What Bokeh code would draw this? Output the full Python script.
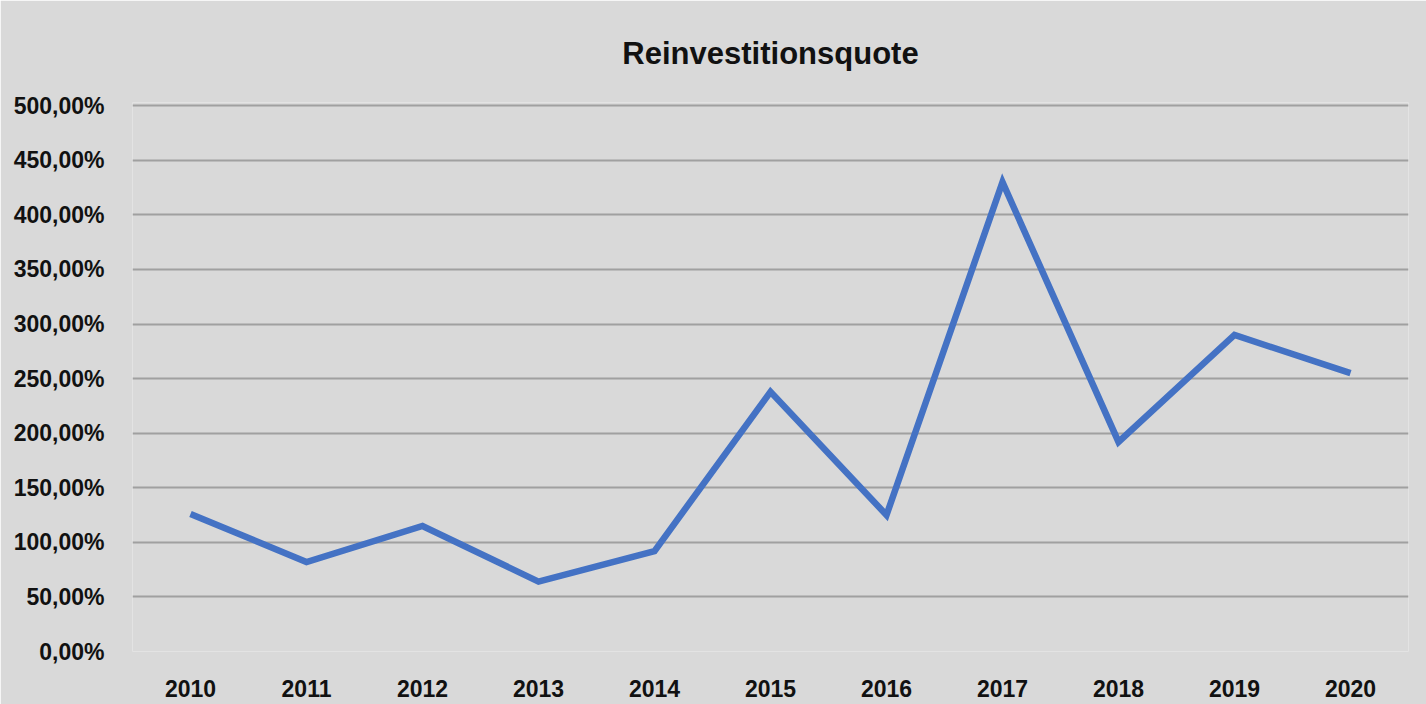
from bokeh.plotting import figure
from bokeh.models import FixedTicker, CustomJSTickFormatter, Range1d
from bokeh.embed import file_html
from bokeh.resources import INLINE

years = ["2010", "2011", "2012", "2013", "2014", "2015", "2016", "2017", "2018", "2019", "2020"]
quote = [126, 82, 115, 64, 92, 238, 125, 430, 192, 290, 255]
y_ticks = [0, 50, 100, 150, 200, 250, 300, 350, 400, 450, 500]

p = figure(x_range=years, y_range=Range1d(0, 503), width=1426, height=704,
           output_backend="svg", toolbar_location=None,
           title="Reinvestitionsquote")
p.background_fill_color = "#d9d9d9"
p.border_fill_color = "#d9d9d9"
p.outline_line_color = None
p.min_border_left = 132
p.min_border_right = 18
p.min_border_top = 102
p.min_border_bottom = 53

p.title.text_font = "Liberation Sans"
p.title.text_font_size = "31px"
p.title.text_font_style = "bold"
p.title.text_color = "#111111"
p.title.align = "center"
p.title.standoff = 64

p.line(years, quote, line_color="#4472c4", line_width=6.5, line_join="miter")

p.yaxis.ticker = FixedTicker(ticks=y_ticks)
p.yaxis.formatter = CustomJSTickFormatter(code="return tick.toFixed(2).replace('.', ',') + '%';")
p.ygrid.ticker = FixedTicker(ticks=y_ticks[1:])
p.ygrid.grid_line_color = "#a0a0a0"
p.ygrid.grid_line_width = 2
p.xgrid.grid_line_color = None

for ax in (p.xaxis[0], p.yaxis[0]):
    ax.axis_line_color = None
    ax.major_tick_line_color = None
    ax.minor_tick_line_color = None
    ax.major_label_text_font = "Liberation Sans"
    ax.major_label_text_font_size = "23px"
    ax.major_label_text_font_style = "bold"
    ax.major_label_text_color = "#111111"
p.yaxis.major_label_standoff = 22
p.xaxis.major_label_standoff = 22

open("out.html", "w").write(file_html(p, INLINE))
